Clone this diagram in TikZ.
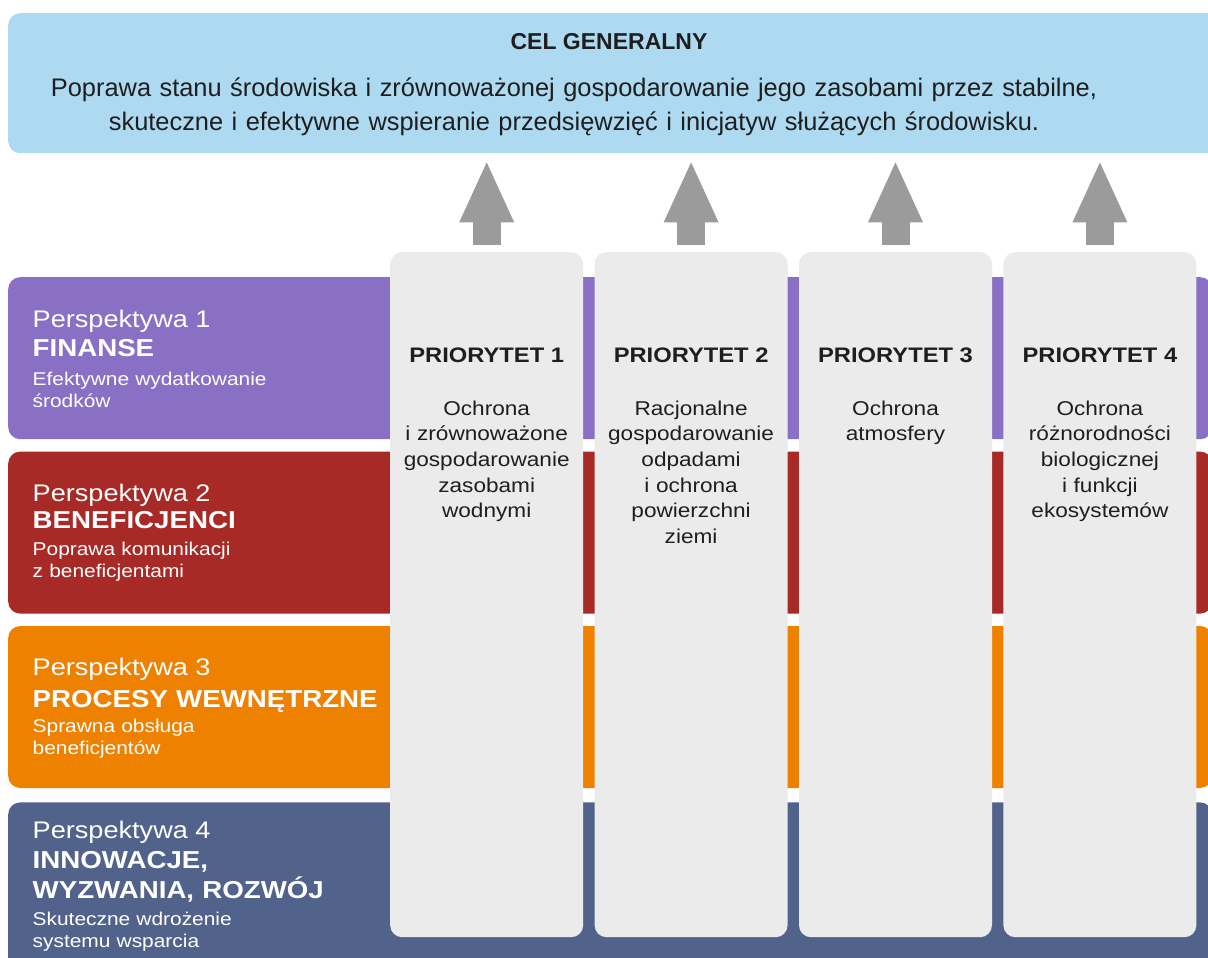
\documentclass[tikz,border=0pt]{standalone}
\usepackage{fontspec}
\setmainfont{Liberation Sans}
\newfontfamily\panelfont[FakeStretch=1.13]{Liberation Sans}
\usetikzlibrary{shapes,arrows.meta,positioning}

\definecolor{goalblue}{HTML}{AEDAF1}
\definecolor{persp1}{HTML}{8970C5}
\definecolor{persp2}{HTML}{A82A26}
\definecolor{persp3}{HTML}{EE8100}
\definecolor{persp4}{HTML}{52638B}
\definecolor{pillargray}{HTML}{EBEBEB}
\definecolor{arrowgray}{HTML}{9B9B9B}
\definecolor{ink}{HTML}{1E1E1E}

\tikzstyle{goal} = [rectangle, fill=goalblue, rounded corners=12pt,
    minimum width=1215pt, minimum height=140pt, inner sep=0pt]
\tikzstyle{goaltitle} = [anchor=base, inner sep=0pt, text=ink,
    font=\bfseries\fontsize{23}{27}\selectfont]
\tikzstyle{goaltext} = [anchor=base, inner sep=0pt, text=ink, text width=1180pt,
    align=center, font=\fontsize{25.4}{34}\selectfont]
\tikzstyle{band} = [rectangle, rounded corners=12pt,
    minimum width=1204pt, minimum height=162pt, inner sep=0pt]
\tikzstyle{pillar} = [rectangle, fill=pillargray, rounded corners=12pt,
    minimum width=193pt, minimum height=685pt, inner sep=0pt]
\tikzstyle{perspnum} = [anchor=base west, inner sep=0pt, text=white,
    font=\panelfont\fontsize{24}{28}\selectfont]
\tikzstyle{persphead} = [anchor=base west, inner sep=0pt, text=white, text width=400pt,
    align=left, font=\panelfont\bfseries\fontsize{24.5}{30}\selectfont]
\tikzstyle{perspdesc} = [anchor=base west, inner sep=0pt, text=white, text width=300pt,
    align=left, font=\panelfont\fontsize{18.5}{22}\selectfont]
\tikzstyle{prioname} = [anchor=base, inner sep=0pt, text=ink,
    font=\panelfont\bfseries\fontsize{21}{25}\selectfont]
\tikzstyle{priotext} = [anchor=base, inner sep=0pt, text=ink, text width=190pt,
    align=center, font=\panelfont\fontsize{20}{25.7}\selectfont]
\tikzstyle{uparrow} = [color=arrowgray, line width=28pt,
    -{Triangle[length=60pt,width=55pt,line width=0pt]}]

\begin{document}
\begin{tikzpicture}[x=1pt, y=-1pt]
    \useasboundingbox (0,0) rectangle (1208,958);
    \clip (0,0) rectangle (1208,958);
    \fill[white] (0,0) rectangle (1208,958);

    % goal
    \node[goal, anchor=north west] (goal) at (8,13) {};
    \node[goaltitle] (goalname) at (609,50) {CEL GENERALNY};
    \node[goaltext] (goalbody) at (574,96) {Poprawa stanu środowiska i zrównoważonej gospodarowanie jego zasobami przez stabilne,\\
        skuteczne i efektywne wspieranie przedsięwzięć i inicjatyw służących środowisku.};

    % perspectives
    \node[band, fill=persp1, anchor=north west] (band1) at (8,277) {};
    \node[band, fill=persp2, below=12pt of band1] (band2) {};
    \node[band, fill=persp3, below=12pt of band2] (band3) {};
    \node[band, fill=persp4, below=14pt of band3, minimum height=200pt] (band4) {};

    \node[perspnum] (num1) at ([shift={(24.5,50)}]band1.north west) {Perspektywa 1};
    \node[persphead] (head1) at ([shift={(24.5,79)}]band1.north west) {FINANSE};
    \node[perspdesc] (desc1) at ([shift={(24.5,108)}]band1.north west) {Efektywne wydatkowanie\\środków};

    \node[perspnum] (num2) at ([shift={(24.5,50)}]band2.north west) {Perspektywa 2};
    \node[persphead] (head2) at ([shift={(24.5,77)}]band2.north west) {BENEFICJENCI};
    \node[perspdesc] (desc2) at ([shift={(24.5,104)}]band2.north west) {Poprawa komunikacji\\z beneficjentami};

    \node[perspnum] (num3) at ([shift={(24.5,50)}]band3.north west) {Perspektywa 3};
    \node[persphead] (head3) at ([shift={(24.5,82)}]band3.north west) {PROCESY WEWNĘTRZNE};
    \node[perspdesc] (desc3) at ([shift={(24.5,107)}]band3.north west) {Sprawna obsługa\\beneficjentów};

    \node[perspnum] (num4) at ([shift={(24.5,36)}]band4.north west) {Perspektywa 4};
    \node[persphead] (head4) at ([shift={(24.5,66)}]band4.north west) {INNOWACJE,\\WYZWANIA, ROZWÓJ};
    \node[perspdesc] (desc4) at ([shift={(24.5,123)}]band4.north west) {Skuteczne wdrożenie\\systemu wsparcia};

    % priorities
    \node[pillar, anchor=north west] (pillar1) at (390,252) {};
    \node[pillar, right=11pt of pillar1] (pillar2) {};
    \node[pillar, right=11pt of pillar2] (pillar3) {};
    \node[pillar, right=11pt of pillar3] (pillar4) {};

    \node[prioname] (prio1) at ([yshift=-110pt]pillar1.north) {PRIORYTET 1};
    \node[prioname] (prio2) at ([yshift=-110pt]pillar2.north) {PRIORYTET 2};
    \node[prioname] (prio3) at ([yshift=-110pt]pillar3.north) {PRIORYTET 3};
    \node[prioname] (prio4) at ([yshift=-110pt]pillar4.north) {PRIORYTET 4};

    \node[priotext] (aim1) at ([yshift=-163pt]pillar1.north) {Ochrona\\i zrównoważone\\gospodarowanie\\zasobami\\wodnymi};
    \node[priotext] (aim2) at ([yshift=-163pt]pillar2.north) {Racjonalne\\gospodarowanie\\odpadami\\i ochrona\\powierzchni\\ziemi};
    \node[priotext] (aim3) at ([yshift=-163pt]pillar3.north) {Ochrona\\atmosfery};
    \node[priotext] (aim4) at ([yshift=-163pt]pillar4.north) {Ochrona\\różnorodności\\biologicznej\\i funkcji\\ekosystemów};

    \draw[uparrow] ([yshift=7pt]pillar1.north) -- ([yshift=-9pt]pillar1.north |- goal.south);
    \draw[uparrow] ([yshift=7pt]pillar2.north) -- ([yshift=-9pt]pillar2.north |- goal.south);
    \draw[uparrow] ([yshift=7pt]pillar3.north) -- ([yshift=-9pt]pillar3.north |- goal.south);
    \draw[uparrow] ([yshift=7pt]pillar4.north) -- ([yshift=-9pt]pillar4.north |- goal.south);
\end{tikzpicture}
\end{document}
